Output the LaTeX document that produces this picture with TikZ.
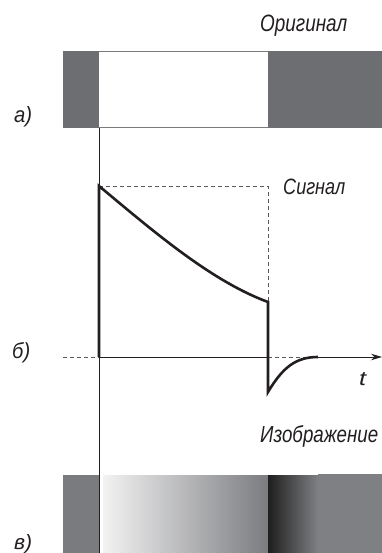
\documentclass[tikz,border=0pt]{standalone}
\usepackage{fontspec}
\setmainfont{Liberation Sans}
\usetikzlibrary{arrows.meta}
\definecolor{ink}{HTML}{231F20}
\definecolor{darkbar}{HTML}{6D6E71}
\definecolor{midbar}{HTML}{7A7B7E}
\definecolor{rightbar}{HTML}{7F8084}
\definecolor{darkmid}{HTML}{5E5F62}
\newcommand{\fitlbl}[3]{\resizebox{#1}{#2}{#3}}
\tikzset{
  lbl/.style={font=\fontsize{22}{26}\selectfont\itshape, text=ink, inner sep=0pt},
  thin/.style={line width=0.9pt, draw=ink},
  thick/.style={line width=2.6pt, draw=ink, line join=miter},
  dashline/.style={line width=0.9pt, draw=ink!75, dash pattern=on 4pt off 3pt},
}
\begin{document}
\begin{tikzpicture}[x=1pt,y=-1pt]
\useasboundingbox (0,0) rectangle (382,553);
% top bar (original)
\fill[darkbar] (63,51) rectangle (99,128);
\fill[darkbar] (268,51) rectangle (382,128);
\draw[line width=0.8pt, draw=ink!60] (99,51.4) -- (268,51.4);
\draw[line width=0.8pt, draw=ink!60] (99,127.6) -- (268,127.6);
% bottom bar (image)
\fill[midbar] (63,475) rectangle (99,553);
\shade[left color=white!95!black, right color=rightbar!97!black] (103,475) rectangle (268,553);
\shade[left color=black!88, middle color=darkmid, right color=rightbar] (268,475) rectangle (318,553);
\fill[rightbar] (318,474) rectangle (382,553);
% vertical reference line
\coordinate (vtop) at (99,128);
\coordinate (vbot) at (99,553);
\draw[thin] (vtop) -- (vbot);
% axis
\coordinate (a0) at (63,357);
\coordinate (a1) at (99,357);
\coordinate (a2) at (268,357);
\coordinate (a3) at (305,357);
\coordinate (a4) at (382,357);
\draw[dashline] (a0) -- (a1);
\draw[thin] (a1) -- (a2);
\draw[dashline] (a2) -- (a3);
\draw[thin, -{Stealth[length=11pt,width=6.5pt]}] (a3) -- (a4);
% dashed envelope
\coordinate (p0) at (99,186);
\coordinate (p1) at (268,186);
\coordinate (p2) at (268,302);
\draw[dashline] (p0) -- (p1) -- (p2);
% signal
\draw[thick] (a1) -- (p0) .. controls (153,231) and (211,281) .. (p2)
  -- (268,392) .. controls (283,367) and (296,357) .. (318,357);
% labels
\node[lbl, anchor=base west] (orig) at (260,32) {\fitlbl{87pt}{16.5pt}{Оригинал}};
\node[lbl, anchor=base west] (la) at (14,123) {\fitlbl{18pt}{16pt}{а)}};
\node[lbl, anchor=base west] (sig) at (283,195) {\fitlbl{62pt}{15.5pt}{Сигнал}};
\node[lbl, anchor=base west] (lb) at (12,358) {\fitlbl{18pt}{16pt}{б)}};
\node[lbl, anchor=base west] (lt) at (359,385) {\fitlbl{7pt}{13pt}{t}};
\node[lbl, anchor=base west] (img) at (260,442) {\fitlbl{118pt}{17pt}{Изображение}};
\node[lbl, anchor=base west] (lv) at (14,549) {\fitlbl{18pt}{15pt}{в)}};
\end{tikzpicture}
\end{document}
